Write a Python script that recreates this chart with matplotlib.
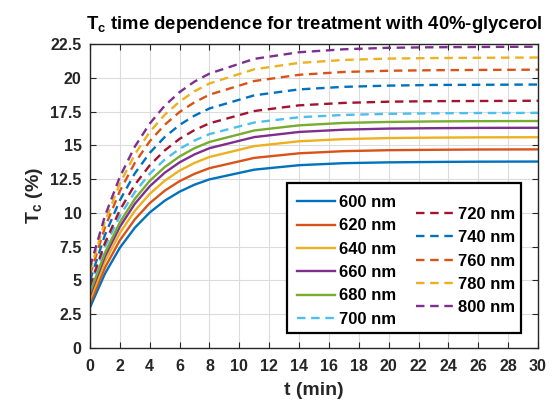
import matplotlib
matplotlib.use("Agg")
import matplotlib.pyplot as plt
from matplotlib.patches import Rectangle

plt.rcParams['font.family'] = ['Liberation Sans', 'DejaVu Sans']
plt.rcParams['font.weight'] = 'bold'
plt.rcParams['axes.titleweight'] = 'bold'
plt.rcParams['axes.labelweight'] = 'bold'
plt.rcParams['mathtext.fontset'] = 'custom'
plt.rcParams['mathtext.rm'] = 'Liberation Sans:bold'
plt.rcParams['mathtext.it'] = 'Liberation Sans:bold'
plt.rcParams['mathtext.bf'] = 'Liberation Sans:bold'
plt.rcParams['mathtext.default'] = 'bf'

t = [0, 1, 2, 3, 4, 5, 6, 7, 8, 11, 14, 17, 20, 23, 26, 30]

tc_600 = [3.0, 5.50, 7.42, 8.90, 10.03, 10.90, 11.57, 12.09, 12.48, 13.20, 13.53, 13.68, 13.74, 13.77, 13.79, 13.80]
tc_620 = [3.3, 5.94, 7.97, 9.52, 10.72, 11.64, 12.35, 12.89, 13.31, 14.07, 14.41, 14.57, 14.64, 14.67, 14.69, 14.70]
tc_640 = [3.6, 6.38, 8.51, 10.15, 11.41, 12.38, 13.13, 13.70, 14.14, 14.94, 15.30, 15.46, 15.54, 15.57, 15.59, 15.60]
tc_660 = [3.9, 6.77, 8.97, 10.67, 11.97, 12.97, 13.74, 14.33, 14.79, 15.61, 15.99, 16.16, 16.24, 16.27, 16.29, 16.30]
tc_680 = [4.1, 7.04, 9.30, 11.03, 12.37, 13.39, 14.18, 14.79, 15.25, 16.10, 16.48, 16.66, 16.73, 16.77, 16.79, 16.80]
tc_700 = [4.5, 7.49, 9.78, 11.54, 12.90, 13.94, 14.74, 15.36, 15.83, 16.69, 17.08, 17.25, 17.33, 17.37, 17.39, 17.40]
tc_720 = [4.6, 7.77, 10.21, 12.08, 13.52, 14.62, 15.48, 16.13, 16.63, 17.54, 17.96, 18.14, 18.23, 18.27, 18.28, 18.30]
tc_740 = [5.0, 8.36, 10.93, 12.92, 14.44, 15.61, 16.51, 17.20, 17.73, 18.70, 19.14, 19.33, 19.42, 19.47, 19.48, 19.50]
tc_760 = [5.4, 8.92, 11.62, 13.70, 15.30, 16.52, 17.47, 18.19, 18.75, 19.76, 20.22, 20.43, 20.52, 20.56, 20.58, 20.60]
tc_780 = [5.7, 9.36, 12.17, 14.33, 15.99, 17.26, 18.24, 19.00, 19.58, 20.63, 21.10, 21.32, 21.42, 21.46, 21.48, 21.50]
tc_800 = [6.0, 9.77, 12.67, 14.90, 16.61, 17.93, 18.94, 19.72, 20.31, 21.40, 21.89, 22.11, 22.22, 22.26, 22.28, 22.30]

labels_solid = ['600 nm', '620 nm', '640 nm', '660 nm', '680 nm', '700 nm']
labels_dash = ['720 nm', '740 nm', '760 nm', '780 nm', '800 nm']
series = [tc_600, tc_620, tc_640, tc_660, tc_680, tc_700, tc_720, tc_740, tc_760, tc_780, tc_800]
labels = labels_solid + labels_dash
colors = ['#0072BD', '#D95319', '#EDB120', '#7E2F8E', '#77AC30', '#4DBEEE',
          '#A2142F', '#0072BD', '#D95319', '#EDB120', '#7E2F8E']
styles = ['-', '-', '-', '-', '-', '--', '--', '--', '--', '--', '--']

xticks = list(range(0, 31, 2))
yticks = [0, 2.5, 5, 7.5, 10, 12.5, 15, 17.5, 20, 22.5]
yticklabels = ['0', '2.5', '5', '7.5', '10', '12.5', '15', '17.5', '20', '22.5']

fig = plt.figure(figsize=(5.54, 4.07), dpi=100)
ax = fig.add_axes([90/554, 1-348/407, 448/554, 304/407])

handles = []
for y, lab, c, s in zip(series, labels, colors, styles):
    kw = dict(color=c, lw=1.7, label=lab, zorder=2)
    if s == '--':
        kw['dashes'] = (3.6, 2.4)
    h, = ax.plot(t, y, **kw)
    handles.append(h)

ax.set_xlim(0, 30)
ax.set_ylim(0, 22.5)
ax.set_xticks(xticks)
ax.set_xticklabels([str(v) for v in xticks], fontweight='bold')
ax.set_yticks(yticks)
ax.set_yticklabels(yticklabels, fontweight='bold')
ax.tick_params(direction='in', top=True, right=True, labelsize=11.5, length=4,
               color='#262626', labelcolor='#262626')
ax.tick_params(axis='x', pad=8)
ax.tick_params(axis='y', pad=6)
for sp in ax.spines.values():
    sp.set_color('#262626')
    sp.set_linewidth(1.0)
ax.grid(True, color='#dcdcdc', lw=0.8)
ax.set_axisbelow(True)

ax.set_xlabel('t (min)', fontsize=14, fontweight='bold', color='#262626', labelpad=6)
ax.set_ylabel('T$_c$ (%)', fontsize=14, fontweight='bold', color='#262626', labelpad=4)
ax.set_title('T$_c$ time dependence for treatment with 40%-glycerol', fontsize=13.3,
             fontweight='bold', pad=11)

# legend frame
rect = Rectangle((287/554, 1-333/407), 234/554, 150/407, transform=fig.transFigure,
                 facecolor='white', edgecolor='black', lw=1.6, zorder=4, clip_on=False)
ax.add_patch(rect)

common = dict(frameon=False, borderpad=0, borderaxespad=0, handlelength=2.3,
              handletextpad=0.2, labelspacing=0.5, loc='center left',
              bbox_transform=fig.transFigure,
              prop={'size': 12, 'weight': 'bold'})
leg1 = ax.legend(handles[:6], labels_solid, bbox_to_anchor=(297/554, 1-261/407), **common)
leg1.set_zorder(6)
ax.add_artist(leg1)
leg2 = ax.legend(handles[6:], labels_dash, bbox_to_anchor=(416/554, 1-261/407), **common)
leg2.set_zorder(6)

fig.savefig('out.png', dpi=100)
